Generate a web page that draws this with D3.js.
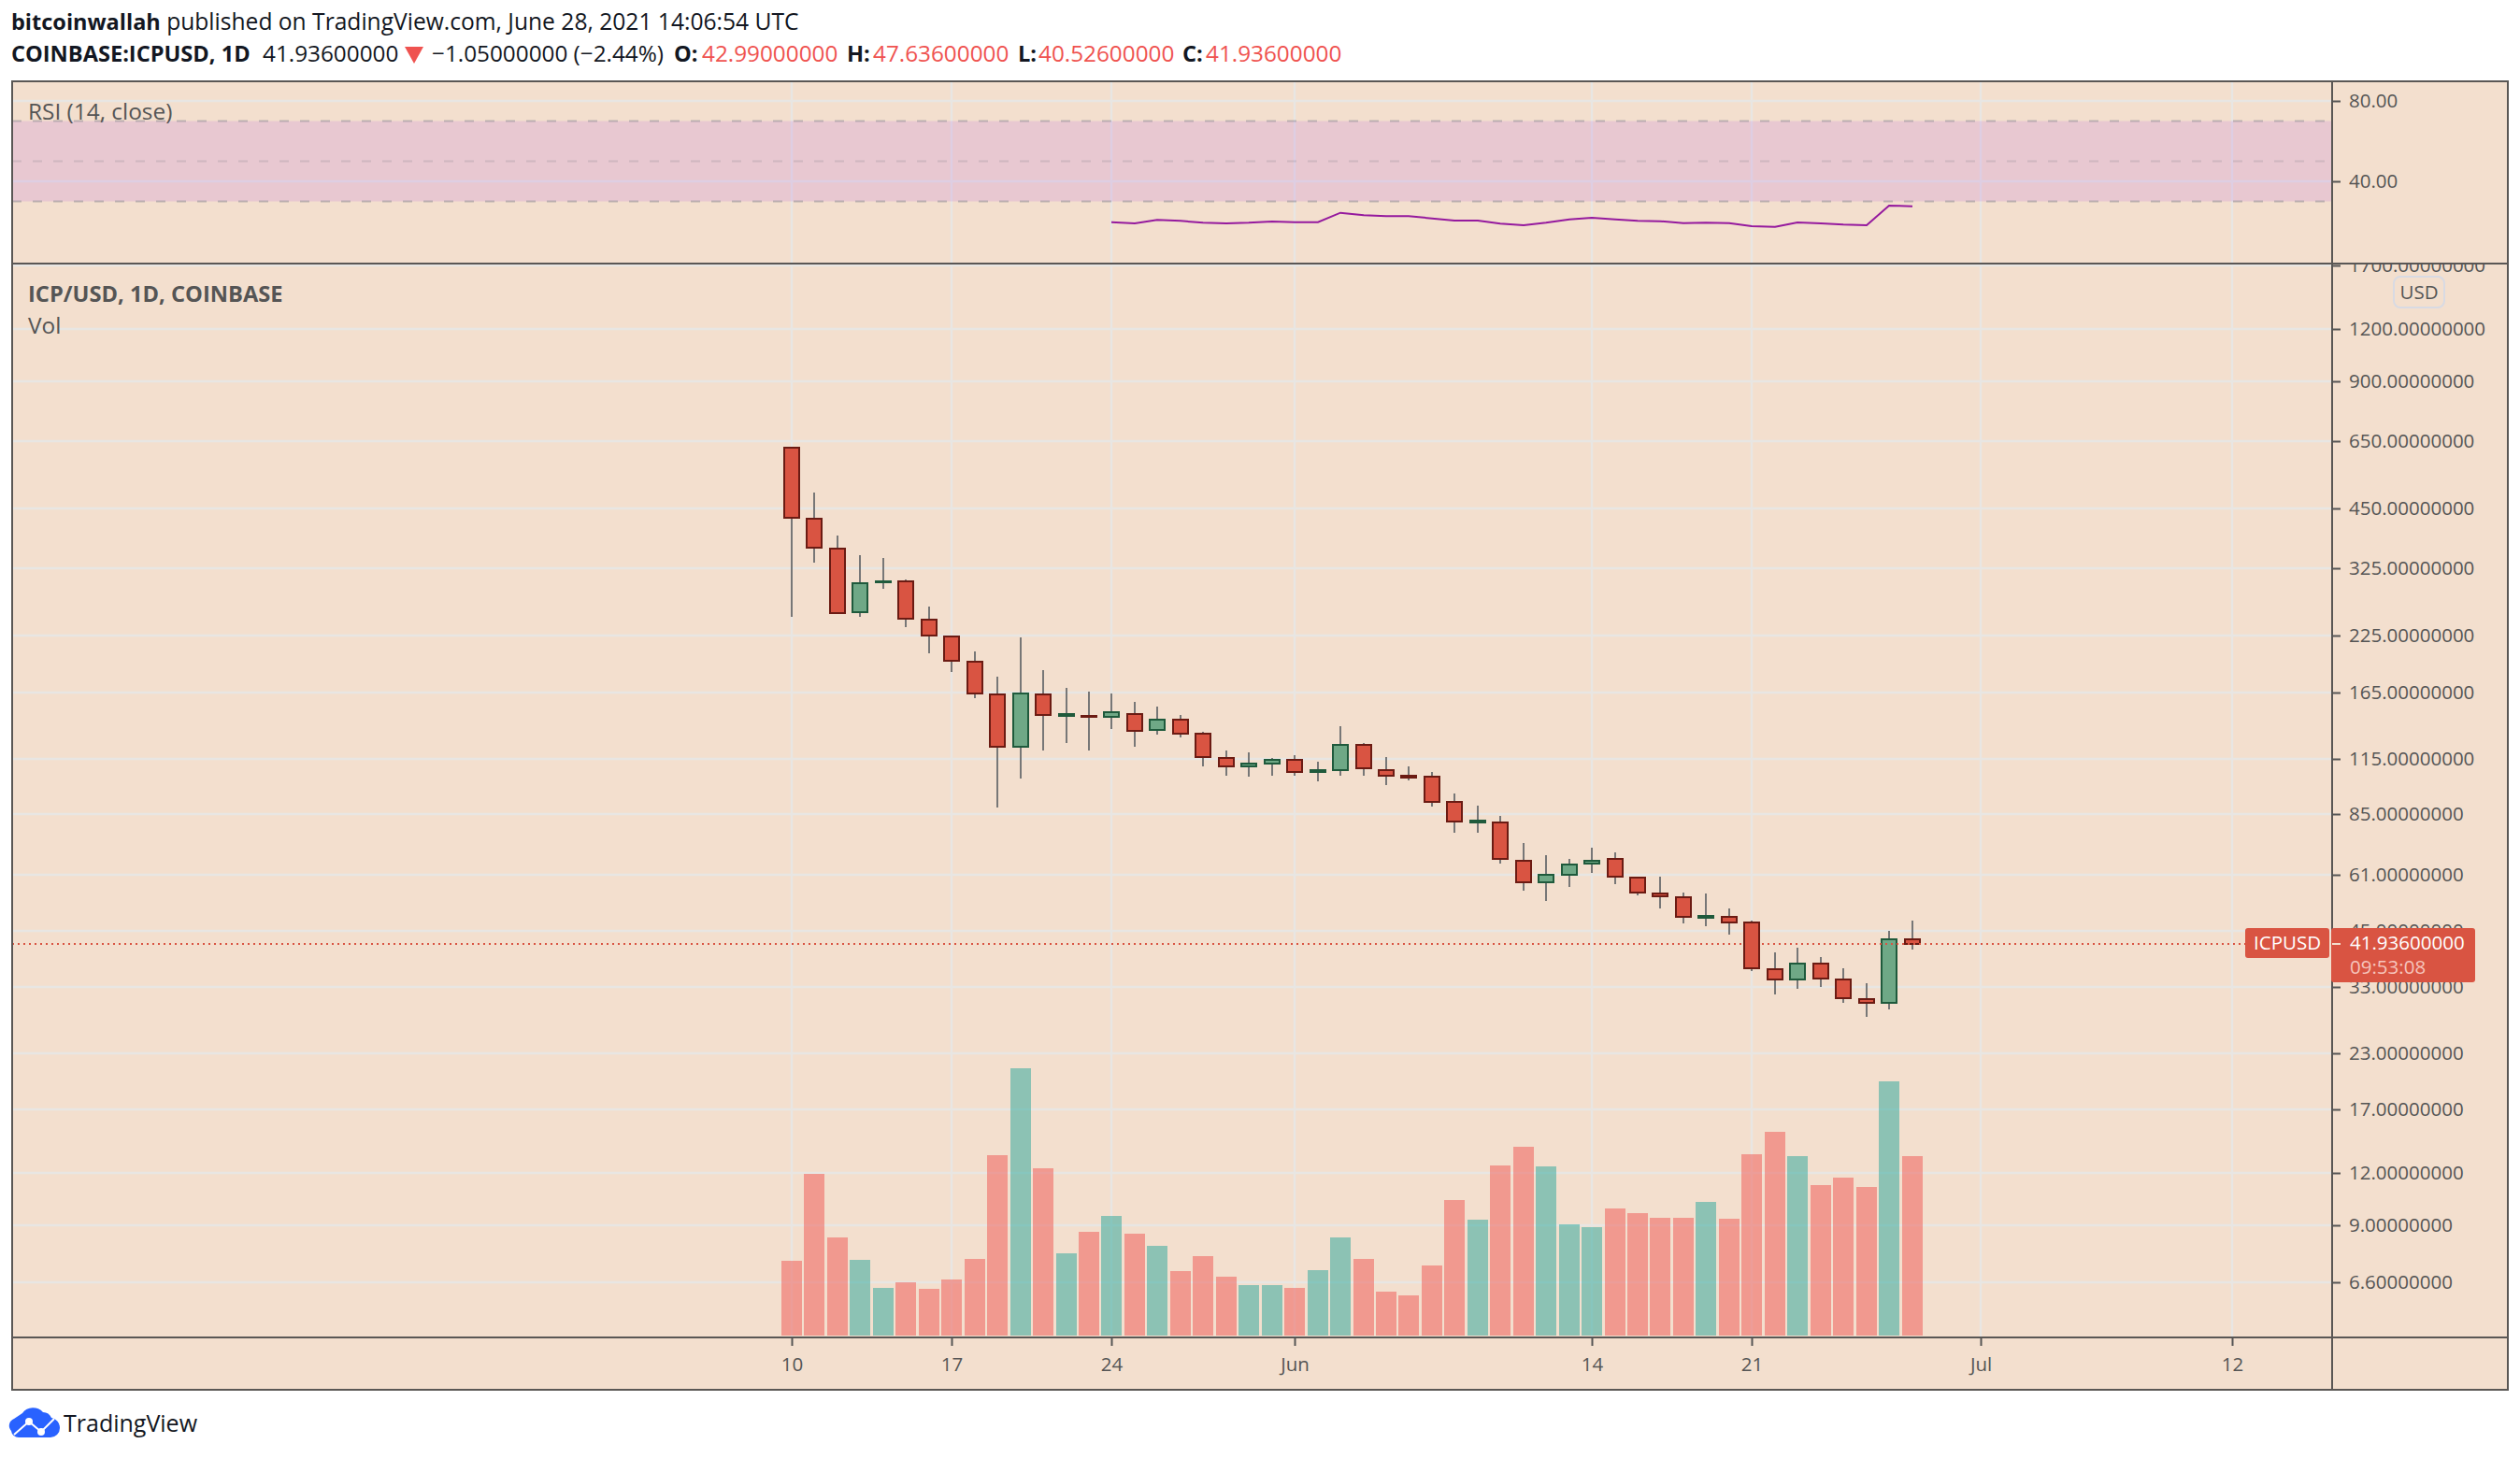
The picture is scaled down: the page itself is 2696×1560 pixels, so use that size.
<!DOCTYPE html>
<html>
<head>
<meta charset="utf-8">
<title>ICP/USD, 1D, COINBASE</title>
<script src="https://cdn.jsdelivr.net/npm/d3@7"></script>
<style>
  html, body { margin: 0; padding: 0; background: #fff; }
  svg { display: block; }
  text { font-family: "Open Sans", sans-serif; }
  .axis text { font-family: "Open Sans", sans-serif; font-size: 20.5px; fill: #555; }
  .axis .domain { display: none; }
  .axis line { stroke: #555; stroke-width: 2; }
</style>
</head>
<body>
<svg id="chart" width="2696" height="1560"></svg>
<script>
// Daily candles, 10 May to 28 June 2021
const opens = [628, 426, 362, 255.4, 301, 303, 246, 224, 195, 163, 123, 163, 145.5, 145.5, 144.5, 147, 134.4, 142, 132,
  115.5, 110.5, 111.7, 114, 107, 108, 124, 108, 104.6, 104, 91, 81, 81, 66, 58.5, 61, 64.8, 66.5, 60, 55,
  54, 48.3, 48.5, 47, 36.4, 34.4, 37.5, 34.4, 31, 30.3, 42.99];
const highs = [628, 491, 389, 349, 344, 306, 264, 225, 206, 180, 223, 186, 169, 166, 164, 157, 153, 146, 133,
  120, 119, 115.4, 117, 113, 137, 125, 116, 110, 107, 95, 89, 84, 72.5, 68, 66.5, 70.7, 69, 60, 60.3,
  55.4, 55, 50.8, 47.5, 40, 41, 39, 36.6, 33.8, 45, 47.636];
const lows = [249, 335, 253, 249, 290, 236, 204, 185, 160, 88, 103, 120, 125, 120, 135, 123, 131, 129, 110,
  105, 104, 105, 105, 101.5, 105, 105, 99.5, 102, 88.5, 76.7, 76.7, 65, 56, 53, 57, 61.6, 58, 54.5, 50.8,
  46.8, 46, 44, 36, 31.7, 32.7, 33, 30.3, 28.1, 29.2, 40.526];
const closes = [428, 364, 255, 299.5, 303, 247, 225, 196, 164, 123, 164, 146, 146.5, 144.5, 148, 134, 142, 132, 116,
  110.5, 111.7, 114.4, 107, 107.8, 124, 109, 104.7, 103.9, 91, 81.6, 82, 66.5, 58.5, 61, 64.5, 66, 60.3, 55.4, 54.2,
  48.5, 48.7, 47, 36.6, 34.4, 37.5, 34.6, 31.1, 30.3, 42.99, 41.936];
// Volume in relative units, the picture's volume scale is hidden
const volumes = [240, 519, 315, 243, 153, 171, 150, 180, 246, 579, 858, 537, 264, 333, 384, 327, 288, 207, 255, 189,
  162, 162, 153, 210, 315, 246, 141, 129, 225, 435, 372, 546, 606, 543, 357, 348, 408, 393, 378, 378,
  429, 375, 582, 654, 576, 483, 507, 477, 816, 576];
// RSI starts on 24 May
const rsiOffset = 14;
const rsiValues = [19.69, 19.07, 20.77, 20.31, 19.38, 19.07, 19.38, 20, 19.69, 19.69, 24.34, 23.1, 22.63, 22.63, 21.55,
  20.46, 20.46, 18.91, 18.14, 19.38, 21.08, 21.86, 21.08, 20.31, 20.15, 19.22, 19.38, 19.22, 17.67, 17.36,
  19.53, 19.07, 18.45, 18.14, 27.9, 27.6];

const priceTicks = [1700, 1200, 900, 650, 450, 325, 225, 165, 115, 85, 61, 45, 33, 23, 17, 12, 9, 6.6];
const rsiTicks = [80, 40];
const rsiBands = [70, 50, 30];
const timeTicks = [
  { date: new Date(Date.UTC(2021, 4, 10)), label: '10' },
  { date: new Date(Date.UTC(2021, 4, 17)), label: '17' },
  { date: new Date(Date.UTC(2021, 4, 24)), label: '24' },
  { date: new Date(Date.UTC(2021, 5, 1)), label: 'Jun' },
  { date: new Date(Date.UTC(2021, 5, 14)), label: '14' },
  { date: new Date(Date.UTC(2021, 5, 21)), label: '21' },
  { date: new Date(Date.UTC(2021, 6, 1)), label: 'Jul' },
  { date: new Date(Date.UTC(2021, 6, 12)), label: '12' }
];
const startDay = new Date(Date.UTC(2021, 4, 10));
const lastPrice = 41.936;

const bg = '#f3dfce', gridColor = '#e8e6e3', frameColor = '#5a5755', textColor = '#555';
const frameLeft = 13, axisX = 2495, frameRight = 2683, frameTop = 87, split = 282, plotBottom = 1431, frameBottom = 1487;

const candles = opens.map((o, i) => ({
  date: d3.utcDay.offset(startDay, i), open: o, high: highs[i], low: lows[i], close: closes[i], volume: volumes[i],
  up: closes[i] >= o
}));

const x = d3.scaleUtc().domain([startDay, new Date(Date.UTC(2021, 6, 12))]).range([847, 2388]).interpolate(d3.interpolateRound);
const y = d3.scaleLog().domain([1200, 6.6]).range([352, 1372]).interpolate(d3.interpolateRound);
const yRsi = d3.scaleLinear().domain([80, 40]).range([108, 194]);
const yVol = d3.scaleLinear().domain([0, 858]).range([1429, 1143]).interpolate(d3.interpolateRound);

const svg = d3.select('#chart');
const defs = svg.append('defs');
// clip is read in the axis group's own coordinates, which start at axisX
defs.append('clipPath').attr('id', 'price-clip').append('rect')
  .attr('x', 0).attr('y', split).attr('width', frameRight - axisX).attr('height', plotBottom - split);

// background
svg.append('rect').attr('x', frameLeft).attr('y', frameTop).attr('width', frameRight - frameLeft)
  .attr('height', frameBottom - frameTop).attr('fill', bg);

// grid
const grid = svg.append('g').attr('stroke', gridColor).attr('stroke-width', 2.4);
grid.selectAll('.v').data(timeTicks).enter().append('line')
  .attr('x1', d => x(d.date)).attr('x2', d => x(d.date)).attr('y1', frameTop).attr('y2', plotBottom);
grid.selectAll('.h').data(priceTicks).enter().append('line')
  .attr('x1', frameLeft).attr('x2', axisX).attr('y1', d => y(d)).attr('y2', d => y(d));
grid.selectAll('.r').data(rsiTicks).enter().append('line')
  .attr('x1', frameLeft).attr('x2', axisX).attr('y1', d => yRsi(d)).attr('y2', d => yRsi(d));

// RSI pane
svg.append('rect').attr('x', frameLeft).attr('width', axisX - frameLeft)
  .attr('y', yRsi(rsiBands[0])).attr('height', yRsi(rsiBands[2]) - yRsi(rsiBands[0]))
  .attr('fill', 'rgb(133,3,236)').attr('fill-opacity', 0.1);
svg.selectAll('.band').data(rsiBands).enter().append('line')
  .attr('x1', frameLeft).attr('x2', axisX).attr('y1', d => yRsi(d)).attr('y2', d => yRsi(d))
  .attr('stroke', '#787b86').attr('stroke-width', 2).attr('stroke-dasharray', '10 12')
  .attr('stroke-opacity', d => d === 50 ? 0.22 : 0.42);
const rsiLine = d3.line().x((d, i) => x(d3.utcDay.offset(startDay, i + rsiOffset))).y(d => yRsi(d));
svg.append('path').datum(rsiValues).attr('d', rsiLine)
  .attr('fill', 'none').attr('stroke', '#951a9e').attr('stroke-width', 2);

// volume
svg.append('g').selectAll('rect').data(candles).enter().append('rect')
  .attr('x', d => x(d.date) - 11).attr('width', 22)
  .attr('y', d => yVol(d.volume)).attr('height', d => yVol(0) - yVol(d.volume))
  .attr('fill', d => d.up ? '#26a69a' : '#ef5350').attr('fill-opacity', 0.5);

// candles
const candle = svg.append('g').selectAll('g').data(candles).enter().append('g');
candle.append('line')
  .attr('x1', d => x(d.date)).attr('x2', d => x(d.date))
  .attr('y1', d => y(d.high)).attr('y2', d => y(d.low))
  .attr('stroke', '#777').attr('stroke-width', 2);
candle.append('rect')
  .attr('x', d => x(d.date) - 8).attr('width', 16)
  .attr('y', d => y(Math.max(d.open, d.close)))
  .attr('height', d => Math.abs(y(d.open) - y(d.close)))
  .attr('fill', d => d.up ? '#6fa886' : '#d95442')
  .attr('stroke', d => d.up ? '#1f5a3c' : '#6b1b13').attr('stroke-width', 2);

// last price line
svg.append('line').attr('x1', frameLeft).attr('x2', 2402).attr('y1', y(lastPrice)).attr('y2', y(lastPrice))
  .attr('stroke', '#d95442').attr('stroke-width', 2).attr('stroke-dasharray', '2 4');

// frame
const frame = svg.append('g').attr('stroke', frameColor).attr('stroke-width', 2).attr('fill', 'none');
frame.append('rect').attr('x', frameLeft).attr('y', frameTop).attr('width', frameRight - frameLeft).attr('height', frameBottom - frameTop);
frame.append('line').attr('x1', frameLeft).attr('x2', frameRight).attr('y1', split).attr('y2', split);
frame.append('line').attr('x1', frameLeft).attr('x2', frameRight).attr('y1', plotBottom).attr('y2', plotBottom);
frame.append('line').attr('x1', axisX).attr('x2', axisX).attr('y1', frameTop).attr('y2', frameBottom);

// axes
svg.append('g').attr('class', 'axis').attr('transform', `translate(${axisX},0)`)
  .call(d3.axisRight(yRsi).tickValues(rsiTicks).tickSize(9).tickPadding(9).tickFormat(d => d.toFixed(2)));
svg.append('g').attr('class', 'axis').attr('transform', `translate(${axisX},0)`).attr('clip-path', 'url(#price-clip)')
  .call(d3.axisRight(y).tickValues(priceTicks).tickSize(9).tickPadding(9).tickFormat(d => d.toFixed(8)));
svg.append('g').attr('class', 'axis').attr('transform', `translate(0,${plotBottom})`)
  .call(d3.axisBottom(x).tickValues(timeTicks.map(d => d.date)).tickSize(9).tickPadding(12)
    .tickFormat((d, i) => timeTicks[i].label));

// last price labels
svg.append('rect').attr('x', 2402).attr('y', 993).attr('width', 90).attr('height', 32).attr('rx', 3).attr('fill', '#d95442');
svg.append('rect').attr('x', axisX - 1).attr('y', 993).attr('width', 154).attr('height', 58).attr('rx', 3).attr('fill', '#d95442');
svg.append('line').attr('x1', axisX).attr('x2', axisX + 9).attr('y1', y(lastPrice)).attr('y2', y(lastPrice))
  .attr('stroke', '#f3dfce').attr('stroke-width', 2);
svg.append('text').attr('x', 2411).attr('y', 1016).attr('font-size', 20.5).attr('fill', '#fff').text('ICPUSD');
svg.append('text').attr('x', 2514).attr('y', 1016).attr('font-size', 20.5).attr('fill', '#fff').text('41.93600000');
svg.append('text').attr('x', 2514).attr('y', 1042).attr('font-size', 20.5).attr('fill', '#f6c4bc').text('09:53:08');

// USD button
svg.append('rect').attr('x', 2561).attr('y', 296).attr('width', 54).attr('height', 33).attr('rx', 7)
  .attr('fill', 'none').attr('stroke', '#d8dae3').attr('stroke-width', 2);
svg.append('text').attr('x', 2588).attr('y', 320).attr('text-anchor', 'middle').attr('font-size', 20.5)
  .attr('fill', textColor).text('USD');

// pane legends
svg.append('text').attr('x', 30).attr('y', 128).attr('font-size', 24.4).attr('fill', textColor).text('RSI (14, close)');
svg.append('text').attr('x', 30).attr('y', 323).attr('font-size', 23.7).attr('font-weight', 700).attr('fill', textColor)
  .text('ICP/USD, 1D, COINBASE');
svg.append('text').attr('x', 30).attr('y', 357).attr('font-size', 24.4).attr('fill', textColor).text('Vol');

// header
const ink = '#131722', down = '#ef5350';
const line1 = svg.append('text').attr('x', 12).attr('y', 32).attr('font-size', 24.6).attr('fill', ink);
line1.append('tspan').attr('font-weight', 700).attr('font-size', 23.5).text('bitcoinwallah');
line1.append('tspan').text(' published on TradingView.com, June 28, 2021 14:06:54 UTC');

const headerRow = [
  { x: 12, text: 'COINBASE:ICPUSD, 1D', bold: true, fill: ink },
  { x: 281, text: '41.93600000', fill: ink },
  { x: 462, text: '\u22121.05000000 (\u22122.44%)', fill: ink },
  { x: 721, text: 'O:', bold: true, fill: ink },
  { x: 751, text: '42.99000000', fill: down },
  { x: 906, text: 'H:', bold: true, fill: ink },
  { x: 934, text: '47.63600000', fill: down },
  { x: 1089, text: 'L:', bold: true, fill: ink },
  { x: 1111, text: '40.52600000', fill: down },
  { x: 1265, text: 'C:', bold: true, fill: ink },
  { x: 1290, text: '41.93600000', fill: down }
];
svg.append('g').selectAll('text').data(headerRow).enter().append('text')
  .attr('x', d => d.x).attr('y', 66).attr('font-size', d => d.bold ? 23.6 : 24.3)
  .attr('font-weight', d => d.bold ? 700 : 400).attr('fill', d => d.fill).text(d => d.text);
svg.append('path').attr('d', 'M433,50H453L443,68Z').attr('fill', down);

// TradingView logo
const logo = svg.append('g');
logo.append('path').attr('fill', '#2962ff')
  .attr('d', 'M12,1531 a8,8 0 0 1 3,-13 L24,1512 a14,14 0 0 1 22,-1 a10,10 0 0 1 9,6 a11,11 0 0 1 9,11 a10,10 0 0 1 -10,10 H20 a8,8 0 0 1 -8,-7Z');
logo.append('path').attr('fill', 'none').attr('stroke', '#fff').attr('stroke-width', 2)
  .attr('d', 'M15,1535 L31,1521 L44,1532 L58,1518');
logo.append('circle').attr('cx', 31).attr('cy', 1521).attr('r', 4).attr('fill', '#fff');
logo.append('circle').attr('cx', 44).attr('cy', 1532).attr('r', 4).attr('fill', '#fff');
svg.append('text').attr('x', 68).attr('y', 1532).attr('font-size', 25).attr('fill', ink).text('TradingView');
</script>
</body>
</html>
